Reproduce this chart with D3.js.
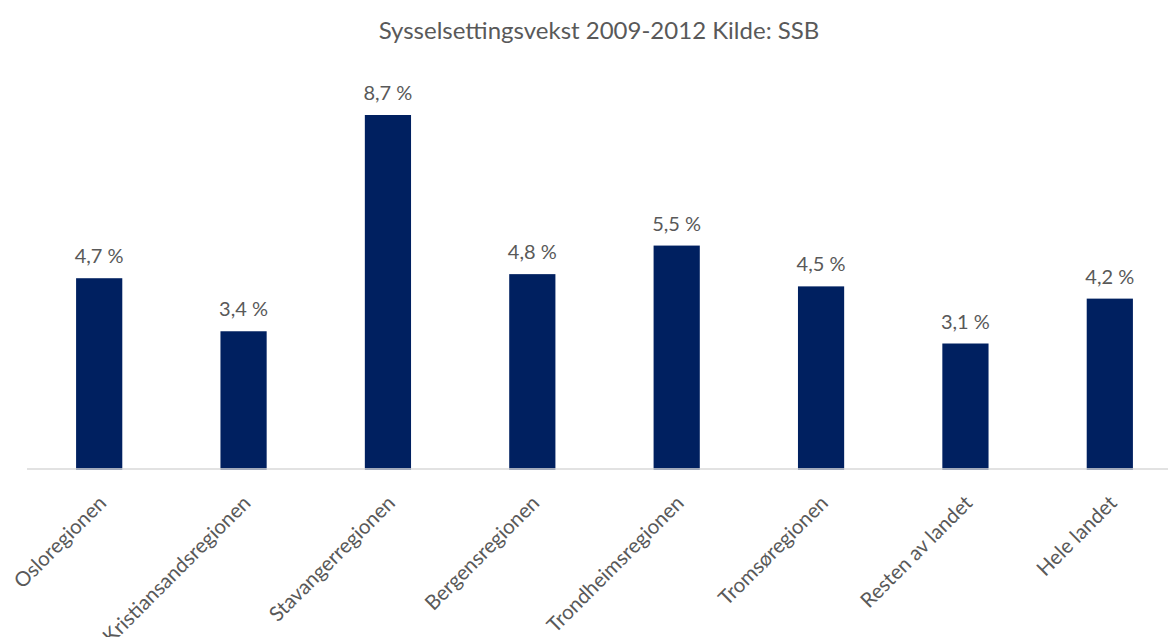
<!DOCTYPE html>
<html>
<head>
<meta charset="utf-8">
<script src="https://cdn.jsdelivr.net/npm/d3@7/dist/d3.min.js"></script>
<style>
  html, body { margin: 0; padding: 0; background: #ffffff; }
  svg text { font-family: "Lato", "Open Sans", sans-serif; fill: #595959; }
</style>
</head>
<body>
<div id="chart"></div>
<script>
const categories = ["Osloregionen", "Kristiansandsregionen", "Stavangerregionen", "Bergensregionen",
  "Trondheimsregionen", "Tromsøregionen", "Resten av landet", "Hele landet"];
const growth = [4.7, 3.4, 8.7, 4.8, 5.5, 4.5, 3.1, 4.2];
const titleText = "Sysselsettingsvekst 2009-2012 Kilde: SSB";

const W = 1168, H = 637;
const svg = d3.select("#chart").append("svg").attr("width", W).attr("height", H);

const plotLeft = 27, plotRight = 1182, baseY = 470, topY = 115;

const x = d3.scaleBand().domain(categories).range([plotLeft, plotRight]).paddingInner(0.68).paddingOuter(0.34);
const y = d3.scaleLinear().domain([0, d3.max(growth)]).range([baseY, topY]);

svg.append("text")
  .attr("x", 599).attr("y", 39)
  .attr("text-anchor", "middle")
  .style("font-size", "24px")
  .text(titleText);

svg.selectAll("rect.bar").data(categories).join("rect")
  .attr("class", "bar")
  .attr("x", d => x(d))
  .attr("width", x.bandwidth())
  .attr("y", (d, i) => y(growth[i]))
  .attr("height", (d, i) => baseY - y(growth[i]))
  .attr("fill", "#002060");

const axis = d3.axisBottom(x).tickSize(0).tickPadding(0);
const gx = svg.append("g").attr("transform", `translate(0,${baseY - 1})`).call(axis);
gx.select(".domain").attr("stroke", "#d9d9d9").attr("stroke-width", 1.3)
  .attr("d", `M${plotLeft},0H${W}`);
gx.selectAll(".tick text")
  .attr("text-anchor", "end")
  .attr("dy", null)
  .attr("y", 0)
  .attr("transform", "translate(-3,24) rotate(-45)")
  .attr("dominant-baseline", "hanging")
  .style("font-size", "20.5px")
  .style("font-family", "Lato, 'Open Sans', sans-serif")
  .attr("fill", "#595959");

svg.selectAll("text.val").data(categories).join("text")
  .attr("class", "val")
  .attr("x", d => x(d) + x.bandwidth() / 2)
  .attr("y", (d, i) => y(growth[i]) - 15)
  .attr("text-anchor", "middle")
  .style("font-size", "20px")
  .text((d, i) => d3.format(".1f")(growth[i]).replace(".", ",") + " %");
</script>
</body>
</html>
